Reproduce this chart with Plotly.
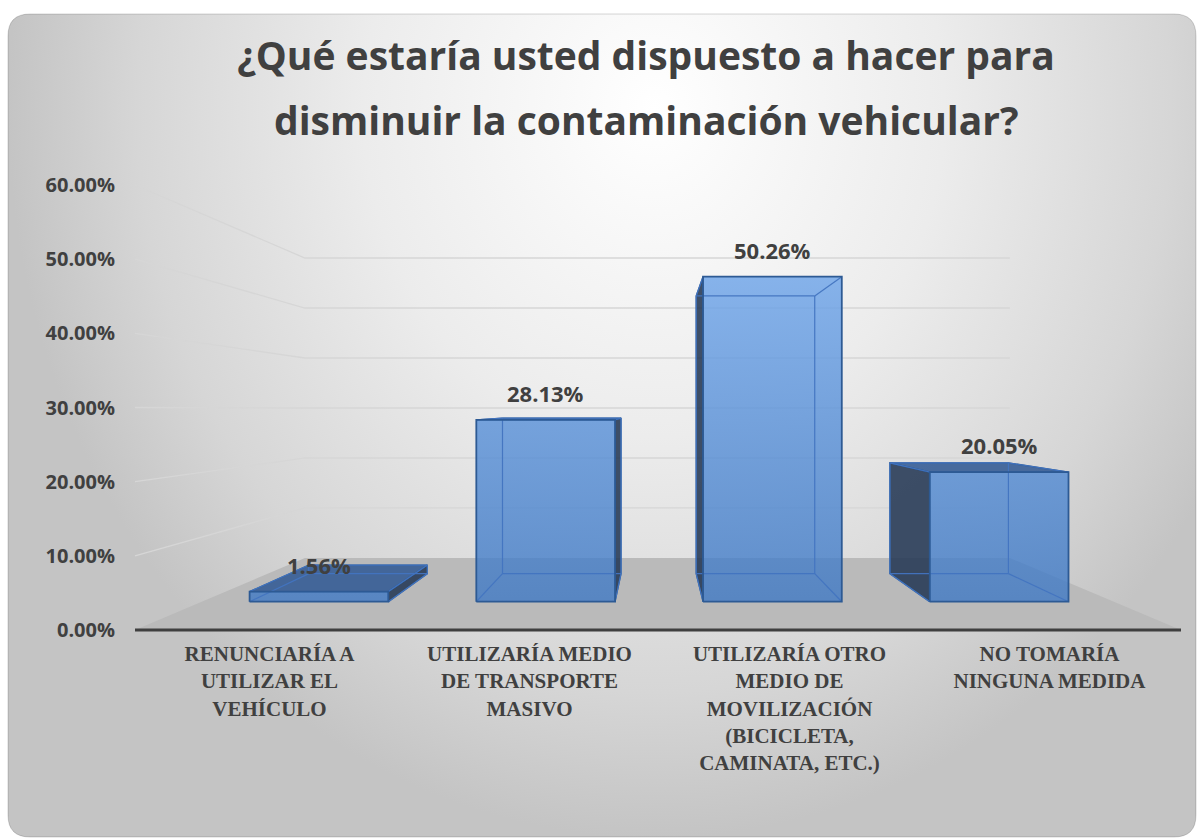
import plotly.graph_objects as go

# ---------------- data ----------------
categories = [
    "RENUNCIARÍA A<br>UTILIZAR EL<br>VEHÍCULO",
    "UTILIZARÍA MEDIO<br>DE TRANSPORTE<br>MASIVO",
    "UTILIZARÍA OTRO<br>MEDIO DE<br>MOVILIZACIÓN<br>(BICICLETA,<br>CAMINATA, ETC.)",
    "NO TOMARÍA<br>NINGUNA MEDIDA",
]
values = [1.56, 28.13, 50.26, 20.05]
y_ticks = [0, 10, 20, 30, 40, 50, 60]
y_tick_labels = ["0.00%", "10.00%", "20.00%", "30.00%", "40.00%", "50.00%", "60.00%"]
title_lines = ["¿Qué estaría usted dispuesto a hacer para",
               "disminuir la contaminación vehicular?"]

# ---------------- layout geometry (pixels) ----------------
W, H = 1197, 838
CAT0_PX, CAT_STEP_PX = 269.5, 260.0
ZERO_PX, PX_PER_PCT = 630.0, 445.0 / 60.0


def px2c(px):
    return (px - CAT0_PX) / CAT_STEP_PX


def py2v(py):
    return (ZERO_PX - py) / PX_PER_PCT


X_RANGE = [px2c(0), px2c(W)]
Y_RANGE = [py2v(H), py2v(0)]

# perspective (vanishing point + depth scale factors)
VP_C, VP_V = px2c(656), py2v(409)
S_FRONT, S_BACK = 1.0, 0.674
S_BAR_F, S_BAR_B = 0.872, 0.745
C_LEFT, C_RIGHT = px2c(135), px2c(1181)
BAR_HALF = 0.306


def proj(c, v, s):
    return VP_C + s * (c - VP_C), VP_V + s * (v - VP_V)


def poly(points):
    xs = [p[0] for p in points] + [points[0][0]]
    ys = [p[1] for p in points] + [points[0][1]]
    return xs, ys


TXT = "#404040"
SANS = "Open Sans"
fig = go.Figure()

# ---------------- background panel (radial gradient) ----------------
bx, by = poly([(px2c(8), py2v(-620)), (px2c(1300), py2v(-620)),
               (px2c(1300), py2v(H)), (px2c(8), py2v(H))])
fig.add_trace(go.Scatter(
    x=bx, y=by, mode="lines", fill="toself", line=dict(width=0),
    fillgradient=dict(type="radial",
                      colorscale=[[0, "#ffffff"], [0.45, "#ececec"], [0.8, "#d6d6d6"], [1, "#c4c4c4"]]),
    hoverinfo="skip", showlegend=False))

# ---------------- gridlines ----------------
gx, gy = [], []
for t in y_ticks[1:]:
    a = proj(C_LEFT, t, S_FRONT)
    b = proj(C_LEFT, t, S_BACK)
    c = proj(C_RIGHT, t, S_BACK)
    gx += [a[0], b[0], c[0], None]
    gy += [a[1], b[1], c[1], None]
fig.add_trace(go.Scatter(x=gx, y=gy, mode="lines", line=dict(color="#d6d6d6", width=1.3),
                         hoverinfo="skip", showlegend=False))

# ---------------- floor ----------------
fx, fy = poly([proj(C_LEFT, 0, S_FRONT), proj(C_RIGHT, 0, S_FRONT),
               proj(C_RIGHT, 0, S_BACK), proj(C_LEFT, 0, S_BACK)])
fig.add_trace(go.Scatter(x=fx, y=fy, mode="lines", fill="toself", fillcolor="#bababa",
                         line=dict(width=0), hoverinfo="skip", showlegend=False))

# ---------------- 3D bars ----------------
EDGE = "#2d5a94"
INNER = "rgba(66,116,192,0.95)"
SIDE = "rgba(36,56,84,0.88)"
TOP = "rgba(50,90,148,0.88)"
g_start = proj(0, 0, S_BAR_F)[1]
g_stop = proj(0, 60, S_BAR_F)[1]

for i, v in enumerate(values):
    l, r = i - BAR_HALF, i + BAR_HALF
    fb_l, fb_r = proj(l, 0, S_BAR_F), proj(r, 0, S_BAR_F)
    ft_l, ft_r = proj(l, v, S_BAR_F), proj(r, v, S_BAR_F)
    bb_l, bb_r = proj(l, 0, S_BAR_B), proj(r, 0, S_BAR_B)
    bt_l, bt_r = proj(l, v, S_BAR_B), proj(r, v, S_BAR_B)

    # visible side face
    if r < VP_C:
        side = [fb_r, ft_r, bt_r, bb_r]
    else:
        side = [fb_l, ft_l, bt_l, bb_l]
    sx, sy = poly(side)
    fig.add_trace(go.Scatter(x=sx, y=sy, mode="lines", fill="toself", fillcolor=SIDE,
                             line=dict(color=EDGE, width=1.3), hoverinfo="skip", showlegend=False))
    # top face (visible when below eye level)
    if v < VP_V:
        tx, ty = poly([ft_l, ft_r, bt_r, bt_l])
        fig.add_trace(go.Scatter(x=tx, y=ty, mode="lines", fill="toself", fillcolor=TOP,
                                 line=dict(color=EDGE, width=1.3), hoverinfo="skip", showlegend=False))
    # front face (translucent)
    qx, qy = poly([fb_l, fb_r, ft_r, ft_l])
    fig.add_trace(go.Scatter(
        x=qx, y=qy, mode="lines", fill="toself", line=dict(width=0),
        fillgradient=dict(type="vertical", start=g_start, stop=g_stop,
                          colorscale=[[0, "rgba(60,119,196,0.78)"], [1, "rgba(125,176,240,0.86)"]]),
        hoverinfo="skip", showlegend=False))
    # edges seen through the faces
    ex, ey = [], []
    for a, b in [(bb_l, bb_r), (bb_r, bt_r), (bt_r, bt_l), (bt_l, bb_l),
                 (fb_l, bb_l), (fb_r, bb_r), (ft_l, bt_l), (ft_r, bt_r)]:
        ex += [a[0], b[0], None]
        ey += [a[1], b[1], None]
    fig.add_trace(go.Scatter(x=ex, y=ey, mode="lines", line=dict(color=INNER, width=1.2),
                             hoverinfo="skip", showlegend=False))
    # front outline
    fig.add_trace(go.Scatter(x=qx, y=qy, mode="lines", line=dict(color=EDGE, width=1.8),
                             hoverinfo="skip", showlegend=False))
    # data label
    fig.add_annotation(x=(ft_l[0] + ft_r[0]) / 2, y=ft_l[1], text=f"{v:.2f}%",
                       showarrow=False, yshift=27,
                       font=dict(family=SANS, size=22, color=TXT, weight="bold"))

# front floor edge
e1, e2 = proj(C_LEFT, 0, S_FRONT), proj(C_RIGHT, 0, S_FRONT)
fig.add_trace(go.Scatter(x=[e1[0], e2[0]], y=[e1[1], e2[1]], mode="lines",
                         line=dict(color="#3f3f3f", width=3.2), hoverinfo="skip", showlegend=False))

# ---------------- panel frame mask (paper coords) ----------------
def P(px, py):
    return f"{px / W:.5f},{1 - py / H:.5f}"


Lp, Tp, Rp, Bp, rad = 8, 14, 1196, 837, 22
inner = (f"M {P(Lp + rad, Tp)} L {P(Rp - rad, Tp)} Q {P(Rp, Tp)} {P(Rp, Tp + rad)} "
         f"L {P(Rp, Bp - rad)} Q {P(Rp, Bp)} {P(Rp - rad, Bp)} L {P(Lp + rad, Bp)} "
         f"Q {P(Lp, Bp)} {P(Lp, Bp - rad)} L {P(Lp, Tp + rad)} Q {P(Lp, Tp)} {P(Lp + rad, Tp)} Z")
outer = "M -0.1,-0.1 L 1.1,-0.1 L 1.1,1.1 L -0.1,1.1 Z "
fig.add_shape(type="path", path=outer + inner, xref="paper", yref="paper",
              fillcolor="white", fillrule="evenodd", line=dict(width=0), layer="above")
fig.add_shape(type="path", path=inner, xref="paper", yref="paper",
              line=dict(color="rgba(0,0,0,0.16)", width=1), layer="above")

# ---------------- title ----------------
fig.add_annotation(xref="paper", yref="paper", x=646 / W, y=1 - 120 / H, yanchor="middle",
                   text=title_lines[1], showarrow=False,
                   font=dict(family=SANS, size=39, color=TXT, weight="bold"))

fig.update_layout(
    width=W, height=H, margin=dict(l=0, r=0, t=0, b=0),
    paper_bgcolor="white", plot_bgcolor="white", showlegend=False,
    title=dict(text=title_lines[0], x=646 / W, xanchor="center", y=1 - 56 / H, yanchor="middle",
               font=dict(family=SANS, size=39, color=TXT, weight="bold")),
    xaxis=dict(range=X_RANGE, tickvals=list(range(len(categories))), ticktext=categories,
               anchor="free", position=(H - ZERO_PX) / H, showgrid=False, zeroline=False,
               showline=False, ticks="", ticklabelstandoff=9, fixedrange=True,
               tickfont=dict(family="Liberation Serif", size=21, color=TXT, weight="bold")),
    yaxis=dict(range=Y_RANGE, tickvals=y_ticks, ticktext=y_tick_labels,
               anchor="free", position=135 / W, showgrid=False, zeroline=False,
               showline=False, ticks="", ticklabelstandoff=20, fixedrange=True,
               tickfont=dict(family=SANS, size=20, color=TXT, weight="bold")),
)

fig.write_html("out.html", config={"displayModeBar": False},
               post_script="document.body.style.margin='0';")
